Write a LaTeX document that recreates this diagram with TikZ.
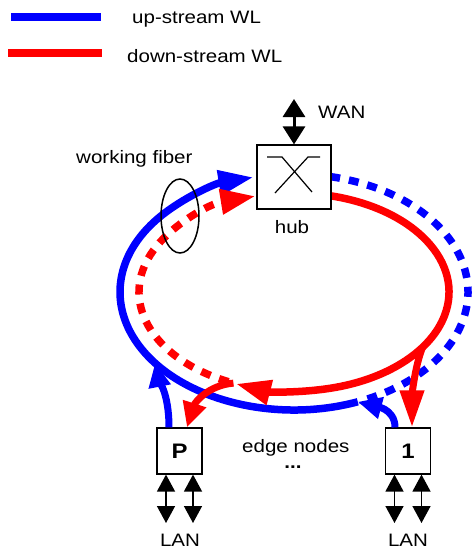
\documentclass[tikz,border=0pt]{standalone}
\usepackage{fontspec}
\setmainfont{Liberation Sans}
\usepackage{graphicx}
\usetikzlibrary{arrows.meta}
\definecolor{ublue}{RGB}{0,0,255}
\definecolor{dred}{RGB}{255,0,0}
\newcommand\sx[1]{\scalebox{1.14}[1]{#1}}
\begin{document}
\begin{tikzpicture}[x=1pt,y=-1pt,
  lbl/.style={inner sep=0pt, font=\fontsize{18}{20}\selectfont},
  ring/.style={line width=7.5pt},
  dsh/.style={dash pattern=on 10pt off 9pt},
  bigtip/.style={-{Triangle[length=35pt,width=24pt]}},
  branch/.style={line width=7pt},
  box/.style={draw, line width=1.2pt, inner sep=0pt, fill=white},
  edgebox/.style={box, minimum width=45pt, minimum height=46pt, font=\bfseries\fontsize{21}{22}\selectfont},
  lan/.style={line width=1.5pt, {Triangle[length=17pt,width=18pt]}-{Triangle[length=17pt,width=18pt]}},
  legline/.style={line width=8pt}
]
\useasboundingbox (0,0) rectangle (472,549);

% legend
\coordinate (lb1) at (11,16.7);
\coordinate (lb2) at (101,16.7);
\coordinate (lr1) at (8,52.5);
\coordinate (lr2) at (102,52.5);
\draw[legline, ublue] (lb1) -- (lb2);
\draw[legline, dred] (lr1) -- (lr2);
\node[lbl, anchor=base west] (tup) at (132,23) {\sx{up-stream WL}};
\node[lbl, anchor=base west] (tdown) at (127,62) {\sx{down-stream WL}};

% ring
\coordinate (c) at (294,292);
\draw[ring, ublue, bigtip] (c) ++(68.5:174 and 118) coordinate (b1)
  arc[start angle=68.5, end angle=256.5, x radius=174, y radius=118];
\draw[ring, ublue, dsh] (c) ++(-78:174 and 118)
  arc[start angle=-78, end angle=66, x radius=174, y radius=118];
\draw[ring, dred, bigtip] (c) ++(-76:155 and 99)
  arc[start angle=-76, end angle=112, x radius=155, y radius=99];
\draw[ring, dred, dsh, bigtip] (c) ++(115:155 and 99)
  arc[start angle=115, end angle=255.6, x radius=155, y radius=99];

\path (c) ++(143:174 and 118) coordinate (bP);
\path (c) ++(113:155 and 99) coordinate (rP);
\path (c) ++(34:155 and 99) coordinate (r1);

% hub
\node[box, minimum width=74pt, minimum height=64pt] (hub) at (294,177) {};
\draw[line width=1.2pt] (267,157) -- (282,157) -- (312,192);
\draw[line width=1.2pt] (275,193) -- (308,157) -- (320,157);
\node[lbl, anchor=base] (thub) at (292,233) {\sx{hub}};
\coordinate (wan) at (294,99);
\draw[line width=3pt, {Triangle[length=18pt,width=22pt]}-{Triangle[length=18pt,width=22pt]}] (wan) -- (hub.north);
\node[lbl, anchor=base west] (twan) at (318,118) {\sx{WAN}};

% working fiber
\node[lbl, anchor=base west] (tfib) at (76,163) {\sx{working fiber}};
\draw[line width=1.5pt] (180,216) ellipse[x radius=19, y radius=37];

% edge nodes
\node[edgebox] (P) at (179.5,451) {\sx{P}};
\node[edgebox] (n1) at (408,451) {\sx{1}};
\node[lbl, anchor=base west] (tedge) at (242,452) {\sx{edge nodes}};
\node[lbl, anchor=base] (tdots) at (293,468) {\sx{\textbf{...}}};

% branches
\draw[branch, ublue, -{Triangle[length=24pt,width=21pt]}] ([xshift=-10.5pt]P.north) .. controls +(0,-35) and +(3,15) .. (bP);
\draw[branch, dred, -{Triangle[length=25pt,width=23pt]}] (rP) .. controls +(-25,2) and +(8,-25) .. ([xshift=7.5pt]P.north);
\draw[branch, ublue, -{Triangle[length=24pt,width=21pt]}] ([xshift=-13pt]n1.north) .. controls +(0,-20) and +(15,4) .. (b1);
\draw[branch, dred, -{Triangle[length=37pt,width=23pt]}] (r1) .. controls +(-8,20) and +(0,-30) .. ([xshift=4pt]n1.north);

% LAN
\coordinate (lp1) at (166,523);
\coordinate (lp2) at (193,523);
\coordinate (lq1) at (394.5,523);
\coordinate (lq2) at (421.5,523);
\draw[lan] ([xshift=-13.5pt]P.south) -- (lp1);
\draw[lan] ([xshift=13.5pt]P.south) -- (lp2);
\draw[lan] ([xshift=-13.5pt]n1.south) -- (lq1);
\draw[lan] ([xshift=13.5pt]n1.south) -- (lq2);
\node[lbl, anchor=base] (tlan1) at (180,546) {\sx{LAN}};
\node[lbl, anchor=base] (tlan2) at (408,546) {\sx{LAN}};
\end{tikzpicture}
\end{document}
